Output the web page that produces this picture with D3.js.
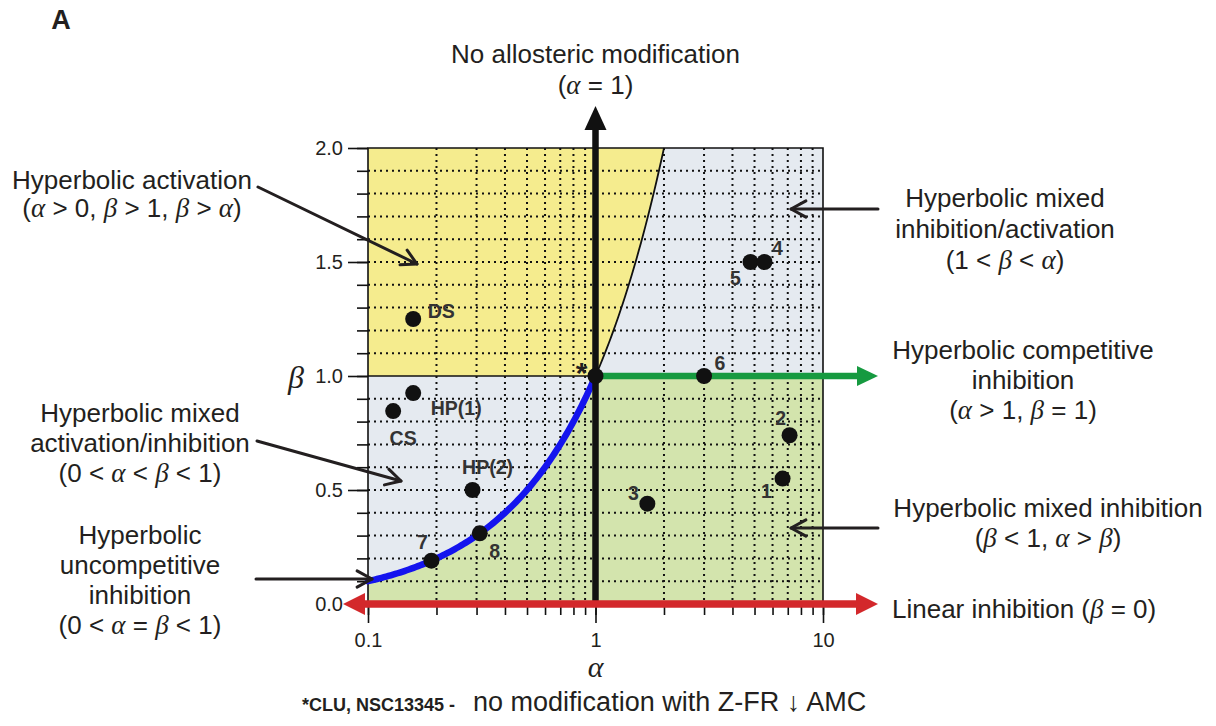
<!DOCTYPE html>
<html>
<head>
<meta charset="utf-8">
<script src="https://cdn.jsdelivr.net/npm/d3@7"></script>
<style>
  body { margin: 0; background: #fff; }
  text { font-family: "Liberation Sans", Arial, sans-serif; fill: #231f20; }
  .greek { font-family: "Liberation Serif", "Times New Roman", serif; font-style: italic; }
  .plabel { font-weight: bold; fill: #333; font-size: 19.5px; }
</style>
</head>
<body>
<div class="chart"></div>
<script>
// chart size = browser window
var svgWidth = 1216;
var svgHeight = 726;

// data
var alphaTicks = [0.1, 1, 10];
var betaTicks = [0, 0.5, 1, 1.5, 2];
var pointNames = ["DS", "HP(1)", "CS", "HP(2)", "7", "8", "3", "1", "2", "6", "5", "4"];
var pointAlpha = [0.158, 0.158, 0.129, 0.288, 0.19, 0.31, 1.69, 6.64, 7.13, 3.0, 4.8, 5.53];
var pointBeta = [1.25, 0.925, 0.846, 0.5, 0.19, 0.31, 0.44, 0.55, 0.74, 1.0, 1.5, 1.5];
var unmodified = {alpha: 1, beta: 1, name: "*"};

// label placement (pixels from the point)
var labelOffset = {
  "DS": [28, -8], "HP(1)": [43, 15], "CS": [10, 27], "HP(2)": [15, -23],
  "7": [-9, -19], "8": [15, 18], "3": [-14, -11], "1": [-16, 13],
  "2": [-9, -17], "6": [16, -13], "5": [-15, 16], "4": [13, -14]
};

var points = pointNames.map(function(n, i) {
  return {name: n, alpha: pointAlpha[i], beta: pointBeta[i]};
});

var margin = {top: 148, right: 393, bottom: 122, left: 368};

var svg = d3.select(".chart")
  .append("svg")
  .attr("width", svgWidth)
  .attr("height", svgHeight);

var x = d3.scaleLog()
  .domain([0.1, 10])
  .range([margin.left, svgWidth - margin.right]);

var y = d3.scaleLinear()
  .domain([0, 2])
  .range([svgHeight - margin.bottom, margin.top]);

// boundary beta = alpha, sampled on the log axis
var diag = d3.range(-1, 0.30103, 0.01).map(function(e) { return Math.pow(10, e); });
diag.push(2);
var lowDiag = diag.filter(function(a) { return a <= 1; });
var highDiag = diag.filter(function(a) { return a >= 1; });

var area = d3.line().x(function(d) { return x(d[0]); }).y(function(d) { return y(d[1]); });

// region fills
svg.append("rect")
  .attr("x", x(0.1)).attr("y", y(2))
  .attr("width", x(10) - x(0.1)).attr("height", y(0) - y(2))
  .attr("fill", "#e5eaf0");

var yellowPoly = [[0.1, 1], [0.1, 2]].concat(highDiag.slice().reverse().map(function(a) { return [a, a]; }));
svg.append("path").attr("d", area(yellowPoly) + "Z").attr("fill", "#f5ec8e");

var greenPoly = [[0.1, 0]].concat(lowDiag.map(function(a) { return [a, a]; }), [[10, 1], [10, 0]]);
svg.append("path").attr("d", area(greenPoly) + "Z").attr("fill", "#d3e4ad");

// dotted grid
var grid = svg.append("g").attr("stroke", "#111").attr("stroke-width", 2).attr("stroke-dasharray", "2,4");
x.ticks().filter(function(t) { return alphaTicks.indexOf(t) < 0; }).forEach(function(t) {
  grid.append("line").attr("x1", x(t)).attr("x2", x(t)).attr("y1", y(2)).attr("y2", y(0));
});
d3.range(1, 20).forEach(function(i) {
  if (i === 10) return;
  grid.append("line").attr("x1", x(0.1)).attr("x2", x(10)).attr("y1", y(i / 10)).attr("y2", y(i / 10));
});

// frame
var frame = svg.append("g").attr("stroke", "#111").attr("stroke-width", 1.6).attr("fill", "none");
frame.append("path").attr("d", "M" + x(0.1) + "," + y(0) + "V" + y(2) + "H" + x(10) + "V" + y(0));

// axes
var bottomMinor = d3.axisBottom(x).tickValues(x.ticks()).tickSize(11).tickFormat("");
var bottomMajor = d3.axisBottom(x).tickValues(alphaTicks).tickSize(19).tickPadding(10)
  .tickFormat(function(d) { return String(d); });
[bottomMinor, bottomMajor].forEach(function(ax) {
  var g = svg.append("g").attr("transform", "translate(0," + y(0) + ")").call(ax);
  g.select(".domain").remove();
  g.selectAll("line").attr("stroke", "#111").attr("stroke-width", 1.6);
  g.selectAll("text").style("font-family", "Liberation Sans, Arial, sans-serif").style("font-size", "20px").attr("fill", "#231f20");
});

var leftMinor = d3.axisLeft(y).tickValues(d3.range(0, 21).map(function(i) { return i / 10; })).tickSize(11).tickFormat("");
var leftMajor = d3.axisLeft(y).tickValues(betaTicks).tickSize(20).tickPadding(5).tickFormat(d3.format(".1f"));
[leftMinor, leftMajor].forEach(function(ax) {
  var g = svg.append("g").attr("transform", "translate(" + x(0.1) + ",0)").call(ax);
  g.select(".domain").remove();
  g.selectAll("line").attr("stroke", "#111").attr("stroke-width", 1.6);
  g.selectAll("text").style("font-family", "Liberation Sans, Arial, sans-serif").style("font-size", "20px").attr("fill", "#231f20");
});

// axis titles
svg.append("text").attr("class", "greek").attr("x", x(1)).attr("y", y(0) + 62).attr("dy", "0.35em")
  .attr("text-anchor", "middle").style("font-size", "30px").text("α");
svg.append("text").attr("class", "greek").attr("x", x(0.1) - 72).attr("y", y(1) + 1).attr("dy", "0.35em")
  .attr("text-anchor", "middle").style("font-size", "32px").text("β");

// thin boundary lines
svg.append("path").attr("d", area([[0.1, 1], [1, 1]])).attr("stroke", "#111").attr("stroke-width", 1.6);
svg.append("path").attr("d", area(highDiag.map(function(a) { return [a, a]; })))
  .attr("fill", "none").attr("stroke", "#111").attr("stroke-width", 1.8);

// blue curve: beta = alpha < 1
svg.append("path").attr("d", area(lowDiag.map(function(a) { return [a, a]; })))
  .attr("fill", "none").attr("stroke", "#1414ee").attr("stroke-width", 6.5).attr("stroke-linecap", "round");

// vertical thick black arrow at alpha = 1
var topTip = y(2) - 42;
svg.append("line").attr("x1", x(1)).attr("x2", x(1)).attr("y1", y(0)).attr("y2", topTip + 20)
  .attr("stroke", "#111").attr("stroke-width", 6.5);
svg.append("path").attr("d", "M" + x(1) + "," + topTip + "L" + (x(1) + 11) + "," + (topTip + 24) + "L" + (x(1) - 11) + "," + (topTip + 24) + "Z")
  .attr("fill", "#111");

// green arrow beta = 1, alpha > 1
var rightTip = x(10) + 55;
svg.append("line").attr("x1", x(1)).attr("x2", rightTip - 18).attr("y1", y(1)).attr("y2", y(1))
  .attr("stroke", "#169a40").attr("stroke-width", 6.5);
svg.append("path").attr("d", "M" + rightTip + "," + y(1) + "L" + (rightTip - 21) + "," + (y(1) - 10) + "L" + (rightTip - 21) + "," + (y(1) + 10) + "Z")
  .attr("fill", "#169a40");

// red double arrow beta = 0
var leftTip = x(0.1) - 25;
svg.append("line").attr("x1", leftTip + 18).attr("x2", rightTip - 18).attr("y1", y(0)).attr("y2", y(0))
  .attr("stroke", "#d3282b").attr("stroke-width", 7.5);
svg.append("path").attr("d", "M" + rightTip + "," + y(0) + "L" + (rightTip - 22) + "," + (y(0) - 11) + "L" + (rightTip - 22) + "," + (y(0) + 11) + "Z")
  .attr("fill", "#d3282b");
svg.append("path").attr("d", "M" + leftTip + "," + y(0) + "L" + (leftTip + 22) + "," + (y(0) - 11) + "L" + (leftTip + 22) + "," + (y(0) + 11) + "Z")
  .attr("fill", "#d3282b");

// data points
svg.selectAll("circle.pt")
  .data(points.concat([unmodified]))
  .enter()
  .append("circle")
  .attr("class", "pt")
  .attr("cx", function(d) { return x(d.alpha); })
  .attr("cy", function(d) { return y(d.beta); })
  .attr("r", 8)
  .attr("fill", "#111");

svg.selectAll("text.plabel")
  .data(points)
  .enter()
  .append("text")
  .attr("class", "plabel")
  .attr("text-anchor", "middle")
  .attr("x", function(d) { return x(d.alpha) + labelOffset[d.name][0]; })
  .attr("y", function(d) { return y(d.beta) + labelOffset[d.name][1]; })
  .attr("dy", "0.35em")
  .text(function(d) { return d.name; });

svg.append("text").attr("x", x(unmodified.alpha) - 14).attr("y", y(unmodified.beta) - 4)
  .attr("dy", "0.35em").attr("text-anchor", "middle")
  .style("font-size", "30px").style("font-weight", "bold").text(unmodified.name);

// text with greek letters in serif italic
function richLine(str, cx, cy, anchor) {
  var t = svg.append("text").attr("x", cx).attr("y", cy).attr("dy", "0.35em")
    .attr("text-anchor", anchor || "middle").style("font-size", "26px");
  str.split(/([αβ])/).forEach(function(part) {
    if (!part) return;
    var ts = t.append("tspan").text(part);
    if (part === "α" || part === "β") ts.attr("class", "greek").style("font-size", "27px");
  });
  return t;
}

function block(lines, cx, cy0, step) {
  lines.forEach(function(l, i) { richLine(l, cx, cy0 + i * step); });
}

block(["No allosteric modification", "(α = 1)"], x(1), 54, 31);
block(["Hyperbolic activation", "(α > 0, β > 1, β > α)"], 132, 180, 28);
block(["Hyperbolic mixed", "activation/inhibition", "(0 < α < β < 1)"], 140, 413, 30);
block(["Hyperbolic", "uncompetitive", "inhibition", "(0 < α = β < 1)"], 140, 535, 30);
block(["Hyperbolic mixed", "inhibition/activation", "(1 < β < α)"], 1005, 198, 31);
block(["Hyperbolic competitive", "inhibition", "(α > 1, β = 1)"], 1023, 350, 30);
block(["Hyperbolic mixed inhibition", "(β < 1, α > β)"], 1048, 508, 30);
richLine("Linear inhibition (β = 0)", 892, 609, "start");

// pointer arrows with open heads
function pointer(x1, y1, x2, y2) {
  var g = svg.append("g").attr("stroke", "#231f20").attr("stroke-width", 3).attr("fill", "none")
    .attr("stroke-linecap", "round").attr("stroke-linejoin", "round");
  g.append("line").attr("x1", x1).attr("y1", y1).attr("x2", x2).attr("y2", y2);
  var ang = Math.atan2(y2 - y1, x2 - x1), len = 17, spread = 0.5;
  var p1 = [x2 - len * Math.cos(ang - spread), y2 - len * Math.sin(ang - spread)];
  var p2 = [x2 - len * Math.cos(ang + spread), y2 - len * Math.sin(ang + spread)];
  g.append("path").attr("d", "M" + p1 + "L" + x2 + "," + y2 + "L" + p2);
}

pointer(258, 187, 417, 264);
pointer(257, 441, 401, 481);
pointer(256, 579, 372, 579);
pointer(878, 209, 791, 209);
pointer(878, 528, 791, 528);

// panel letter
svg.append("text").attr("x", 61).attr("y", 20).attr("dy", "0.35em").attr("text-anchor", "middle")
  .style("font-size", "27px").style("font-weight", "bold").text("A");

// footnote
var foot = svg.append("text").attr("x", 302).attr("y", 705).attr("dy", "0.35em");
foot.append("tspan").style("font-size", "18px").style("font-weight", "bold").text("*CLU, NSC13345 -");
foot.append("tspan").style("font-size", "27px").attr("dx", 18).text("no modification with Z-FR ↓ AMC");
</script>
</body>
</html>
